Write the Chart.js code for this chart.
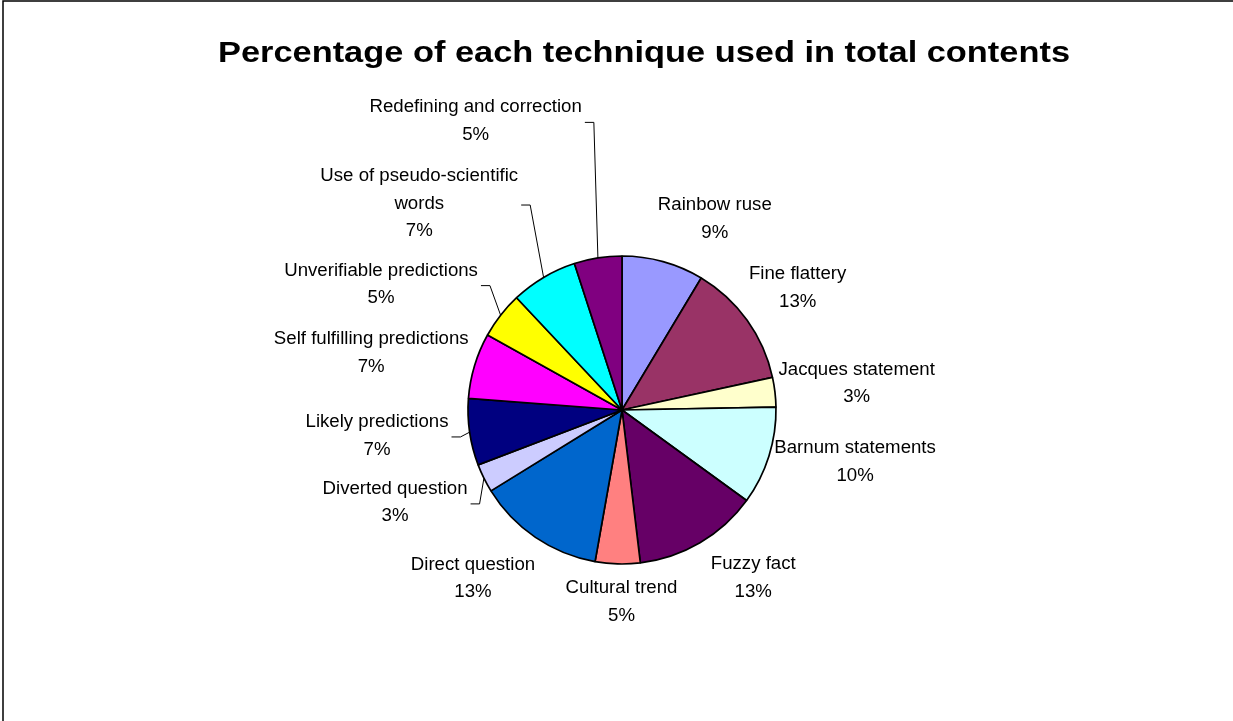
<!DOCTYPE html>
<html>
<head>
<meta charset="utf-8">
<title>Percentage of each technique used in total contents</title>
<script src="https://cdn.jsdelivr.net/npm/chart.js@4.4.1/dist/chart.umd.min.js"></script>
<style>
  html, body { margin: 0; padding: 0; background: #fff; }
  #wrap { width: 1233px; height: 721px; }
</style>
</head>
<body>
<div id="wrap"><canvas id="myChart" width="1233" height="721"></canvas></div>
<script>
// chart data
const title = "Percentage of each technique used in total contents";
const categories = [
  "Rainbow ruse",
  "Fine flattery",
  "Jacques statement",
  "Barnum statements",
  "Fuzzy fact",
  "Cultural trend",
  "Direct question",
  "Diverted question",
  "Likely predictions",
  "Self fulfilling predictions",
  "Unverifiable predictions",
  ["Use of pseudo-scientific", "words"],
  "Redefining and correction",
];
const shares = [8.6, 13.0, 3.1, 10.3, 13.1, 4.7, 13.4, 3.0, 7.0, 6.9, 4.9, 7.0, 5.0];
const colors = [
  "#9999FF", "#993366", "#FFFFCC", "#CCFFFF", "#660066", "#FF8080", "#0066CC",
  "#CCCCFF", "#000080", "#FF00FF", "#FFFF00", "#00FFFF", "#800080",
];

// label placement: nudge from the radial spot, and whether a leader line is drawn
const labelNudge = [
  [41, -4], [18, -9], [42, -4], [48, -6], [33, 1], [5, -2], [-40, 8],
  [-53, 7], [-53, -2], [-65, -1], [-88, -6], [-104, -39], [-116, -97],
];
const hasLeader = [false, false, false, false, false, false, false, true, true, false, true, true, true];

const FONT = "'Liberation Sans', Arial, sans-serif";
const LINE_H = 27.5;

// excel-ish text is a bit wider than the canvas font, so stretch it
function wideText(c, t, x, y, sx) {
  c.save();
  c.translate(x, y);
  c.scale(sx, 1);
  c.fillText(t, 0, 0);
  c.restore();
  return c.measureText(t).width * sx;
}

const labelsPlugin = {
  id: "pieLabels",
  beforeDraw(chart) {
    const c = chart.ctx;
    c.save();
    c.fillStyle = "#fff";
    c.fillRect(0, 0, chart.width, chart.height);
    c.strokeStyle = "#000";
    c.lineWidth = 1.5;
    c.beginPath();
    c.moveTo(3, chart.height + 5);
    c.lineTo(3, 1);
    c.lineTo(chart.width + 5, 1);
    c.stroke();
    c.font = "bold 30px " + FONT;
    c.fillStyle = "#000";
    c.textAlign = "center";
    c.textBaseline = "alphabetic";
    const sx = 852 / c.measureText(title).width;
    wideText(c, title, 644, 62, sx);
    c.restore();
  },
  afterDatasetsDraw(chart) {
    const c = chart.ctx;
    const meta = chart.getDatasetMeta(0);
    const total = shares.reduce((a, b) => a + b, 0);
    c.save();
    c.font = "17.5px " + FONT;
    c.fillStyle = "#000";
    c.textAlign = "center";
    c.textBaseline = "middle";
    meta.data.forEach((arc, i) => {
      const p = arc.getProps(["x", "y", "startAngle", "endAngle", "outerRadius"], true);
      const mid = (p.startAngle + p.endAngle) / 2;
      const ux = Math.cos(mid), uy = Math.sin(mid);
      const cx = p.x + (p.outerRadius + 40) * ux + labelNudge[i][0];
      const cy = p.y + (p.outerRadius + 40) * uy + labelNudge[i][1];
      const name = Array.isArray(categories[i]) ? categories[i] : [categories[i]];
      const lines = name.concat([Math.round(shares[i] / total * 100) + "%"]);
      const top = cy - (lines.length - 1) * LINE_H / 2;
      let w = 0;
      lines.forEach((t, k) => {
        w = Math.max(w, wideText(c, t, cx, top + k * LINE_H, 1.065));
      });
      if (hasLeader[i]) {
        const sx = cx + w / 2 + 3;
        const sy = cy + 1;
        c.beginPath();
        c.strokeStyle = "#000";
        c.lineWidth = 1;
        c.moveTo(sx, sy);
        c.lineTo(sx + 9, sy);
        c.lineTo(p.x + p.outerRadius * ux, p.y + p.outerRadius * uy);
        c.stroke();
      }
    });
    c.restore();
  },
};

new Chart(document.getElementById("myChart"), {
  type: "pie",
  data: {
    labels: categories,
    datasets: [
      {
        data: shares,
        backgroundColor: colors,
        borderColor: "#000",
        borderWidth: 1.7,
        radius: 154,
      },
    ],
  },
  options: {
    responsive: false,
    animation: false,
    layout: {
      padding: { top: 256, bottom: 157, left: 100, right: 89 },
    },
    plugins: {
      legend: { display: false },
      tooltip: { enabled: false },
      title: { display: false },
    },
  },
  plugins: [labelsPlugin],
});
</script>
</body>
</html>
